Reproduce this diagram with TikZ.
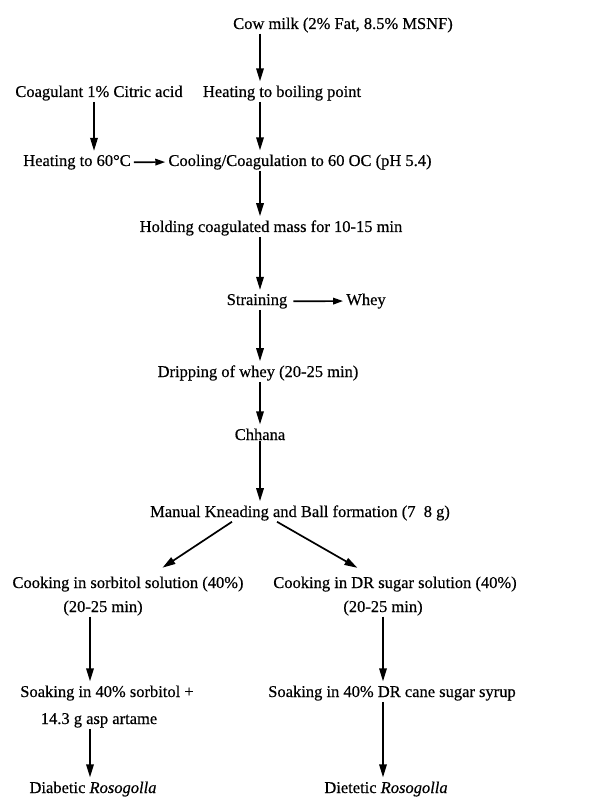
\documentclass[tikz,border=0pt]{standalone}
\usepackage{fontspec}
\setmainfont{Liberation Serif}[BoldFont=Liberation Serif,BoldFeatures={FakeBold=0.5},
  BoldItalicFont=Liberation Serif Italic,BoldItalicFeatures={FakeBold=0.5}]
\usetikzlibrary{arrows.meta}
\tikzset{
  stage/.style={anchor=base,inner xsep=3pt,inner ysep=1pt,font=\fontsize{16.5}{18}\selectfont\bfseries},
  flow/.style={line width=1.7pt,-{Triangle[length=13pt,width=7.5pt]},shorten >=3pt},
  sideflow/.style={flow,shorten >=0pt,-{Triangle[length=10pt,width=6.5pt]}},
}

\begin{document}
\begin{tikzpicture}[x=1pt,y=-1pt]
\useasboundingbox (0,0) rectangle (603,799);
\coordinate (trunk) at (260,0);
\coordinate (side) at (94,0);
\coordinate (lcol) at (90,0);
\coordinate (rcol) at (383,0);
% main line
\node[stage] (milk) at (343,29) {Cow milk (2\% Fat, 8.5\% MSNF)};
\node[stage] (coag) at (99,97) {Coagulant 1\% Citric acid};
\node[stage] (boil) at (282,97) {Heating to boiling point};
\node[stage] (heat) at (77,166) {Heating to 60°C};
\node[stage] (cool) at (300,166) {Cooling/Coagulation to 60 OC (pH 5.4)};
\node[stage] (hold) at (271,232) {Holding coagulated mass for 10-15 min};
\node[stage] (strain) at (257,305) {Straining};
\node[stage] (whey) at (366,305) {Whey};
\node[stage] (drip) at (258,377) {Dripping of whey (20-25 min)};
\node[stage] (chhana) at (260,440) {Chhana};
\node[stage] (knead) at (300,517) {Manual Kneading and Ball formation (7~~8 g)};
% two branches
\node[stage] (sorb) at (128,588) {Cooking in sorbitol solution (40\%)};
\node[stage] (sorbt) at (103,612) {(20-25 min)};
\node[stage] (drsug) at (395,588) {Cooking in DR sugar solution (40\%)};
\node[stage] (drsugt) at (383,612) {(20-25 min)};
\node[stage] (soaka) at (107,697) {Soaking in 40\% sorbitol +};
\node[stage] (soakb) at (99,724) {14.3 g asp artame};
\node[stage] (soakdr) at (392,697) {Soaking in 40\% DR cane sugar syrup};
\node[stage] (diab) at (93,793) {Diabetic \textit{Rosogolla}};
\node[stage] (diet) at (386,793) {Dietetic \textit{Rosogolla}};

\draw[flow] (milk.south -| trunk) -- (boil.north -| trunk);
\draw[flow] (boil.south -| trunk) -- (cool.north -| trunk);
\draw[flow] (coag.south -| side) -- (heat.north -| side);
\draw[sideflow] (heat.east) -- (cool.west);
\draw[flow] (cool.south -| trunk) -- (hold.north -| trunk);
\draw[flow] (hold.south -| trunk) -- (strain.north -| trunk);
\draw[sideflow] ([xshift=3pt]strain.east) -- (whey.west);
\draw[flow] (strain.south -| trunk) -- (drip.north -| trunk);
\draw[flow] (drip.south -| trunk) -- (chhana.north -| trunk);
\draw[flow] (chhana.south -| trunk) -- (knead.north -| trunk);
\draw[flow] ([xshift=-68pt]knead.south) -- ([xshift=32pt,yshift=6pt]sorb.north);
\draw[flow] ([xshift=-23pt]knead.south) -- ([xshift=-35pt,yshift=6pt]drsug.north);
\draw[flow] (sorbt.south -| lcol) -- (soaka.north -| lcol);
\draw[flow] (soakb.south -| lcol) -- (diab.north -| lcol);
\draw[flow] (drsugt.south -| rcol) -- (soakdr.north -| rcol);
\draw[flow] (soakdr.south -| rcol) -- (diet.north -| rcol);
\end{tikzpicture}
\end{document}
